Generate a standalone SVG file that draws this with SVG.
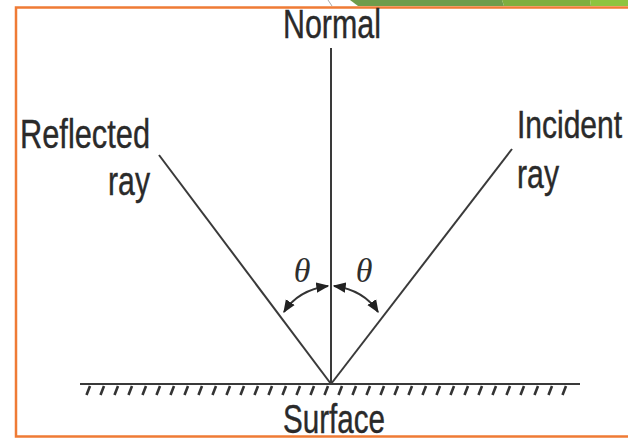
<svg xmlns="http://www.w3.org/2000/svg" width="628" height="440" viewBox="0 0 628 440">
<defs>
<style>
.lbl{font-family:"Liberation Sans",Arial,sans-serif;font-size:40px;fill:#2a2a2a;stroke:#2a2a2a;stroke-width:0.4;}
.th{font-family:"Liberation Serif","Times New Roman",serif;font-style:italic;font-size:34px;fill:#2e2e2e;}
.ln{stroke:#3a3a3a;stroke-width:2;fill:none;}
.hatch{stroke:#333;stroke-width:2.6;}
.arc{stroke:#333;stroke-width:2;fill:none;marker-start:url(#ah);marker-end:url(#ah);}
</style>
<marker id="ah" viewBox="0 0 10 10" refX="9" refY="5" markerWidth="6.5" markerHeight="6.5" orient="auto-start-reverse">
<path d="M0,1 L10,5 L0,9 z" fill="#222"/>
</marker>
</defs>
<rect width="628" height="440" fill="#ffffff"/>
<g id="slide-decor">
<polygon points="350,0 502,0 504,6 358,6" fill="#6f9c4b"/>
<polygon points="502,0 590,0 591,6 504,6" fill="#7fae3e"/>
<polygon points="590,0 628,0 628,6 591,6" fill="#8ec43f"/>
<line x1="328" y1="0" x2="332" y2="6" stroke="#aaa" stroke-width="1"/>
<path d="M628,7.5 H16 V436.5 H628" fill="none" stroke="#ef7b35" stroke-width="2.5"/>
</g>
<g id="connectors">
<line id="normal-line" class="ln" x1="331" y1="48" x2="331" y2="384"/>
<line id="reflected-ray" class="ln" x1="331" y1="384" x2="159" y2="155"/>
<line id="incident-ray" class="ln" x1="331" y1="384" x2="512" y2="149"/>
<path class="arc" d="M284,312 Q298,290 328,286"/>
<path class="arc" d="M334,286 Q364,290 378,312"/>
</g>
<g id="surface">
<line class="ln" x1="80" y1="384" x2="580" y2="384" stroke-width="2.4"/>
<g class="hatch">
<path d="M90,386 l-3.5,9 M104,386 l-3.5,9 M118,386 l-3.5,9 M132,386 l-3.5,9 M146,386 l-3.5,9 M160,386 l-3.5,9 M174,386 l-3.5,9 M188,386 l-3.5,9 M202,386 l-3.5,9 M216,386 l-3.5,9 M230,386 l-3.5,9 M244,386 l-3.5,9 M258,386 l-3.5,9 M272,386 l-3.5,9 M286,386 l-3.5,9 M300,386 l-3.5,9 M314,386 l-3.5,9 M328,386 l-3.5,9 M342,386 l-3.5,9 M356,386 l-3.5,9 M370,386 l-3.5,9 M384,386 l-3.5,9 M398,386 l-3.5,9 M412,386 l-3.5,9 M426,386 l-3.5,9 M440,386 l-3.5,9 M454,386 l-3.5,9 M468,386 l-3.5,9 M482,386 l-3.5,9 M496,386 l-3.5,9 M510,386 l-3.5,9 M524,386 l-3.5,9 M538,386 l-3.5,9 M552,386 l-3.5,9 M566,386 l-3.5,9"/>
</g>
<text class="lbl" x="283" y="433" textLength="102" lengthAdjust="spacingAndGlyphs">Surface</text>
</g>
<g id="normal">
<text class="lbl" x="283" y="38" textLength="98" lengthAdjust="spacingAndGlyphs">Normal</text>
</g>
<g id="reflected">
<text class="lbl" x="20" y="148" textLength="130" lengthAdjust="spacingAndGlyphs">Reflected</text>
<text class="lbl" x="108" y="195" textLength="42" lengthAdjust="spacingAndGlyphs">ray</text>
</g>
<g id="incident">
<text class="lbl" transform="translate(517,138) scale(1,1.28)" x="0" y="0" style="font-size:30px;stroke-width:0.35">Incident</text>
<text class="lbl" x="517" y="188" textLength="42" lengthAdjust="spacingAndGlyphs">ray</text>
</g>
<g id="angles">
<text class="th" x="302" y="282" text-anchor="middle">θ</text>
<text class="th" x="364" y="282" text-anchor="middle">θ</text>
</g>
</svg>
